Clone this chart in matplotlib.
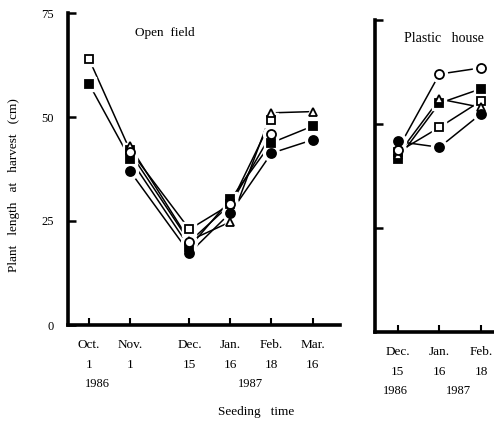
import numpy as np
import matplotlib
matplotlib.use("Agg")
import matplotlib.pyplot as plt
from matplotlib import transforms

plt.rcParams["font.family"] = ["Liberation Serif", "DejaVu Serif"]

# ---- data: plant length at harvest (cm) by seeding time ----
open_months = ["Oct.", "Nov.", "Dec.", "Jan.", "Feb.", "Mar."]
open_days = ["1", "1", "15", "16", "18", "16"]
open_slots = [0, 1, 2.45, 3.45, 4.45, 5.45]

nan = np.nan
open_sq_open = [64, 42, 23, 29, 49.3, nan]
open_sq_fill = [58, 40, 18.7, 30.2, 43.8, 47.8]
open_tri = [nan, 43, 20.3, 24.8, 51, 51.3]
open_circ_open = [nan, 41.5, 20, 29, 46, nan]
open_circ_fill = [nan, 37, 17.3, 27, 41.3, 44.5]

house_months = ["Dec.", "Jan.", "Feb."]
house_days = ["15", "16", "18"]
house_slots = [0, 1, 2]

house_sq_open = [43.2, 49.2, 55.6]
house_sq_fill = [41.5, 55, 58.5]
house_tri = [42.5, 56, 54]
house_circ_open = [43.8, 62, 63.5]
house_circ_fill = [45.8, 44.4, 52.5]

styles = [
    ("s", "white"),
    ("s", "black"),
    ("^", "white"),
    ("o", "white"),
    ("o", "black"),
]

fig = plt.figure(figsize=(4.94, 4.25), dpi=100)
ax1 = fig.add_axes([68 / 494, 1 - 325 / 425, 272 / 494, 312 / 425])
ax2 = fig.add_axes([375 / 494, 1 - 332 / 425, 190 / 494, 312 / 425])


def draw_panel(ax, x, series):
    sizes = {"s": 5.5, "^": 6, "o": 6.5}
    for ys in series:
        ax.plot(x, ys, color="black", lw=1.1, zorder=2, solid_capstyle="butt")
    for ys, (m, fc) in zip(series, styles):
        ax.plot(x, ys, ls="none", marker=m, ms=sizes[m] + 5,
                mfc="white", mec="white", zorder=3)
    for ys, (m, fc) in zip(series, styles):
        ax.plot(x, ys, ls="none", marker=m, ms=sizes[m],
                mfc=fc, mec="black", mew=1.3, zorder=4)
    ax.set_ylim(0, 75)
    for side in ("top", "right"):
        ax.spines[side].set_visible(False)
    for side in ("left", "bottom"):
        ax.spines[side].set_linewidth(2.6)
    ax.tick_params(axis="y", direction="in", length=6, width=1.8, pad=10,
                   labelsize=9)
    ax.tick_params(axis="x", direction="in", length=5, width=1.5, pad=10,
                   labelsize=9.5)


draw_panel(ax1, open_slots,
           [open_sq_open, open_sq_fill, open_tri, open_circ_open, open_circ_fill])
ax1.set_xlim(-0.51, 6.12)
ax1.set_yticks([0, 25, 50, 75])
ax1.set_xticks(open_slots)
ax1.set_xticklabels([f"{m}\n{d}" for m, d in zip(open_months, open_days)],
                    linespacing=1.85)
ax1.text(0.245, 0.935, "Open  field", transform=ax1.transAxes, fontsize=9.5,
         ha="left", va="center")

draw_panel(ax2, house_slots,
           [house_sq_open, house_sq_fill, house_tri, house_circ_open, house_circ_fill])
ax2.set_xlim(-0.54, 4.0)
ax2.set_yticks([25, 50, 75])
ax2.set_yticklabels([])
ax2.set_xticks(house_slots)
ax2.set_xticklabels([f"{m}\n{d}" for m, d in zip(house_months, house_days)],
                    linespacing=1.85)
ax2.text(0.15, 0.94, "Plastic   house", transform=ax2.transAxes, fontsize=10,
         ha="left", va="center")

# year row under the date labels
t1 = transforms.blended_transform_factory(ax1.transData, fig.transFigure)
ax1.text(0.2, 1 - 384 / 425, "1986", transform=t1, ha="center", va="center",
         fontsize=9)
ax1.text(3.95, 1 - 384 / 425, "1987", transform=t1, ha="center", va="center",
         fontsize=9)
t2 = transforms.blended_transform_factory(ax2.transData, fig.transFigure)
ax2.text(-0.05, 1 - 391 / 425, "1986", transform=t2, ha="center", va="center",
         fontsize=9)
ax2.text(1.45, 1 - 391 / 425, "1987", transform=t2, ha="center", va="center",
         fontsize=9)

fig.text(0.028, 0.565, "Plant   length   at   harvest   (cm)", rotation=90,
         ha="center", va="center", fontsize=9.5)
fig.text(0.518, 0.031, "Seeding   time", ha="center", va="center", fontsize=9.5)

fig.savefig("out.png", dpi=100)
